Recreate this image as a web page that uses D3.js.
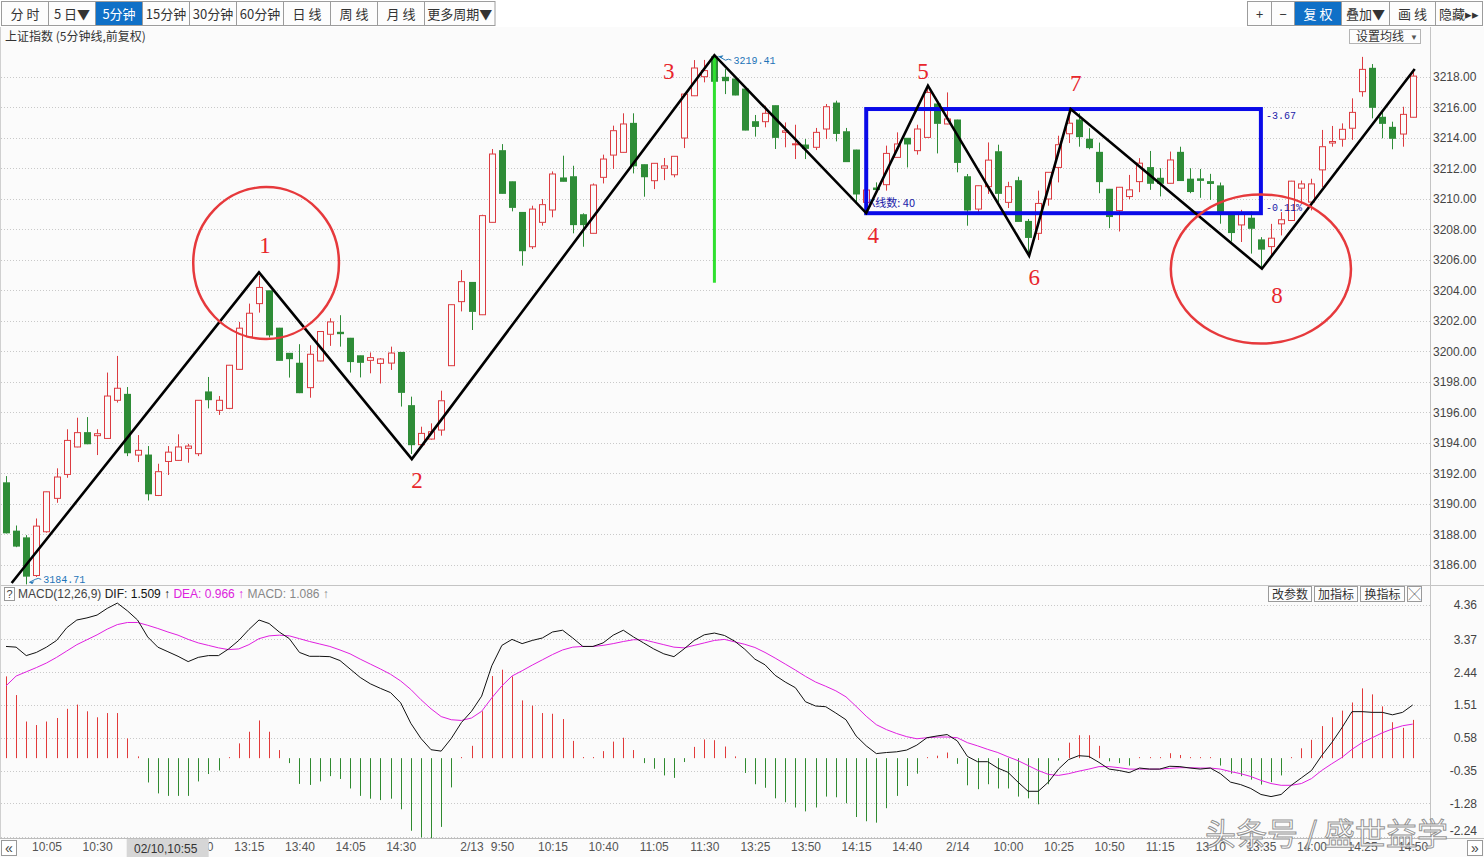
<!DOCTYPE html>
<html>
<head>
<meta charset="utf-8">
<script src="https://cdn.jsdelivr.net/npm/d3@7"></script>
<style>
  html, body { margin: 0; padding: 0; background: #fbfbfb; overflow: hidden; }
  svg { display: block; font-family: "Liberation Sans", Arial, sans-serif; }
</style>
</head>
<body>
<svg id="chart" width="1484" height="857"></svg>
<script>
// ---- 上证指数 5分钟K线 (02/10 09:45 – 02/14 14:50) ----
const opens = [3191.37,3188.20,3187.76,3185.29,3188.16,3190.35,3191.92,3193.72,3194.66,3194.46,
3194.28,3196.78,3197.17,3193.19,3193.19,3190.54,3192.77,3192.84,3193.63,3193.28,
3197.33,3196.12,3196.25,3198.81,3200.94,3203.12,3203.96,3201.51,3199.86,3199.21,
3197.61,3199.36,3201.11,3201.24,3200.85,3199.70,3199.40,3199.20,3199.22,3199.92,
3196.43,3193.87,3194.24,3194.83,3199.05,3203.25,3204.51,3202.39,3208.45,3213.15,
3211.11,3209.10,3206.85,3208.45,3209.26,3211.36,3211.44,3208.95,3207.73,3211.40,
3212.86,3213.04,3214.94,3212.23,3211.18,3212.00,3211.57,3213.98,3216.75,3218.00,
3219.30,3217.96,3217.85,3217.19,3215.05,3215.05,3216.10,3214.35,3213.55,3213.52,
3213.37,3214.57,3216.27,3214.39,3213.19,3209.76,3210.70,3210.92,3212.71,3213.96,
3213.15,3214.02,3216.21,3214.90,3215.16,3211.44,3209.32,3210.79,3213.08,3209.76,
3211.18,3208.51,3207.73,3209.98,3212.05,3214.26,3215.16,3213.90,3213.04,3210.62,
3209.22,3210.14,3211.12,3212.04,3211.34,3211.01,3213.04,3211.28,3211.30,3211.12,
3210.84,3209.05,3208.28,3208.72,3207.30,3206.86,3208.35,3208.57,3210.69,3209.78,
3211.89,3213.65,3213.90,3214.62,3217.02,3218.55,3215.34,3214.68,3214.24,3215.34];

const highs = [3191.81,3188.57,3187.94,3189.03,3190.80,3192.32,3194.88,3195.64,3195.68,3194.88,
3198.60,3199.69,3197.65,3194.50,3193.78,3192.62,3193.78,3194.55,3193.93,3196.80,
3198.31,3197.06,3199.10,3201.92,3203.12,3204.94,3203.98,3201.53,3199.88,3200.46,
3200.39,3201.30,3202.16,3202.36,3200.87,3199.72,3199.92,3199.55,3200.30,3199.94,
3197.02,3195.05,3195.27,3197.41,3203.07,3205.32,3204.53,3208.95,3213.26,3213.58,
3211.13,3209.12,3209.54,3209.98,3211.79,3212.82,3212.16,3209.04,3211.00,3212.89,
3214.79,3215.60,3215.60,3212.25,3212.34,3212.67,3212.80,3216.90,3219.09,3219.10,
3219.41,3218.50,3217.87,3217.21,3215.49,3216.10,3216.12,3215.00,3214.85,3213.91,
3214.64,3216.21,3216.43,3214.64,3213.21,3210.60,3211.07,3213.48,3214.35,3213.98,
3214.85,3217.34,3216.47,3216.97,3215.18,3211.62,3210.87,3213.69,3213.54,3211.11,
3211.44,3208.67,3210.53,3211.75,3214.13,3215.76,3215.60,3214.62,3213.68,3210.64,
3210.77,3211.56,3212.66,3213.13,3212.00,3213.09,3213.41,3212.00,3211.95,3211.63,
3211.06,3209.07,3209.27,3209.16,3207.48,3208.35,3209.12,3211.17,3211.19,3211.31,
3214.51,3214.77,3214.94,3216.58,3219.30,3218.83,3215.82,3215.05,3216.03,3218.44];

const lows = [3188.05,3187.15,3184.71,3185.20,3188.10,3190.06,3191.70,3193.70,3193.90,3193.19,
3194.25,3196.63,3193.12,3192.73,3190.21,3190.50,3191.88,3192.80,3192.69,3193.12,
3196.25,3195.82,3196.20,3198.80,3200.90,3202.53,3200.90,3199.38,3198.27,3197.25,
3196.95,3199.34,3200.35,3200.30,3198.60,3198.28,3198.55,3197.88,3198.77,3196.37,
3193.26,3193.85,3194.20,3194.46,3199.03,3202.61,3201.39,3202.37,3208.43,3210.33,
3209.17,3205.61,3206.70,3208.23,3208.78,3211.12,3207.73,3206.85,3207.71,3211.00,
3211.95,3213.02,3211.66,3210.13,3210.63,3211.22,3211.40,3213.32,3216.73,3217.63,
3217.60,3216.86,3216.78,3214.48,3214.07,3214.68,3213.26,3213.37,3212.60,3212.60,
3213.19,3213.91,3213.76,3212.41,3209.76,3209.70,3210.31,3210.53,3212.69,3212.05,
3212.89,3214.00,3212.97,3214.88,3211.73,3208.23,3209.10,3210.31,3209.76,3209.39,
3208.49,3206.37,3207.29,3209.54,3211.07,3213.65,3213.41,3213.24,3210.36,3208.07,
3207.85,3209.97,3210.43,3210.58,3210.15,3210.99,3211.17,3210.36,3210.06,3209.92,
3208.36,3207.19,3207.16,3206.40,3205.52,3206.28,3207.59,3208.55,3209.66,3209.23,
3210.76,3213.41,3213.41,3213.86,3216.69,3215.27,3213.96,3213.24,3213.41,3215.32];

const closes = [3188.09,3187.22,3185.25,3188.53,3190.78,3191.75,3194.15,3194.66,3193.93,3194.59,
3197.06,3197.57,3193.34,3193.50,3190.65,3192.10,3193.38,3193.72,3193.78,3196.78,
3196.82,3196.78,3199.08,3201.51,3202.49,3204.18,3201.07,3199.40,3199.51,3197.28,
3199.80,3201.29,3201.92,3201.15,3199.32,3199.27,3199.58,3199.49,3199.88,3197.30,
3193.87,3194.61,3194.72,3196.75,3203.05,3204.56,3202.61,3208.89,3212.93,3210.35,
3209.43,3206.59,3209.32,3209.61,3211.62,3211.14,3208.30,3208.30,3210.90,3212.60,
3214.46,3214.90,3212.16,3211.44,3212.32,3212.15,3212.78,3216.86,3218.57,3218.40,
3217.70,3217.74,3216.80,3214.50,3214.74,3215.60,3214.02,3214.45,3213.60,3213.30,
3214.35,3216.03,3214.28,3212.43,3210.31,3210.57,3210.60,3212.97,3213.59,3213.59,
3214.57,3216.97,3214.94,3215.23,3212.38,3209.26,3210.85,3212.53,3210.35,3210.79,
3208.51,3207.46,3209.69,3211.73,3213.54,3214.95,3214.07,3213.35,3211.12,3208.83,
3210.75,3210.58,3212.33,3211.01,3211.01,3212.54,3211.19,3210.47,3211.20,3211.00,
3209.10,3207.78,3209.08,3208.06,3206.69,3207.41,3208.62,3211.15,3210.97,3210.97,
3213.41,3213.75,3214.55,3215.66,3218.48,3215.99,3214.94,3213.96,3215.53,3218.04];

// ---- MACD(12,26,9) ----
const dif = [3.17,3.15,2.91,3.00,3.15,3.34,3.70,3.92,3.98,4.06,
4.25,4.40,4.18,3.92,3.44,3.15,3.02,2.89,2.74,2.86,
2.91,2.91,3.10,3.34,3.65,3.92,3.82,3.58,3.39,3.00,
2.89,2.89,2.88,2.77,2.53,2.29,2.11,1.98,1.86,1.57,
0.99,0.56,0.24,0.20,0.56,1.01,1.33,1.76,2.62,3.20,
3.37,3.25,3.34,3.41,3.58,3.63,3.41,3.17,3.17,3.27,
3.49,3.63,3.44,3.27,3.10,2.96,2.88,3.10,3.34,3.50,
3.55,3.48,3.32,3.09,2.81,2.65,2.35,2.16,2.00,1.60,
1.48,1.46,1.28,1.09,0.63,0.35,0.13,0.16,0.18,0.23,
0.37,0.58,0.63,0.67,0.49,0.05,-0.10,-0.10,-0.28,-0.40,
-0.68,-0.94,-0.94,-0.68,-0.31,-0.04,0.07,0.05,-0.12,-0.31,
-0.35,-0.41,-0.28,-0.31,-0.31,-0.23,-0.24,-0.28,-0.31,-0.28,
-0.44,-0.68,-0.75,-0.86,-1.03,-1.09,-1.03,-0.77,-0.56,-0.35,
0.07,0.44,0.86,1.32,1.32,1.30,1.30,1.23,1.30,1.509];

const dea = [2.05,2.33,2.45,2.57,2.70,2.86,3.04,3.22,3.36,3.50,
3.66,3.79,3.85,3.85,3.77,3.68,3.58,3.49,3.37,3.27,
3.20,3.13,3.08,3.10,3.22,3.39,3.47,3.49,3.47,3.39,
3.31,3.24,3.17,3.07,2.96,2.81,2.67,2.53,2.38,2.19,
1.95,1.66,1.40,1.18,1.09,1.07,1.14,1.33,1.71,2.05,
2.33,2.48,2.64,2.79,2.94,3.07,3.15,3.17,3.17,3.20,
3.25,3.31,3.36,3.36,3.29,3.22,3.15,3.13,3.20,3.27,
3.34,3.37,3.30,3.23,3.14,3.00,2.84,2.67,2.50,2.32,
2.16,2.04,1.91,1.74,1.47,1.19,0.95,0.81,0.70,0.61,
0.55,0.58,0.60,0.60,0.58,0.44,0.35,0.25,0.16,0.04,
-0.07,-0.21,-0.35,-0.46,-0.49,-0.44,-0.37,-0.31,-0.24,-0.24,
-0.27,-0.31,-0.31,-0.31,-0.31,-0.29,-0.27,-0.27,-0.28,-0.28,
-0.31,-0.38,-0.44,-0.52,-0.63,-0.72,-0.77,-0.77,-0.72,-0.58,
-0.35,-0.16,0.02,0.25,0.44,0.58,0.72,0.83,0.92,0.966];

const macdBars = [2.32,1.79,1.04,0.94,1.04,1.14,1.40,1.52,1.33,1.16,
1.28,1.28,0.56,0.05,-0.69,-1.00,-1.07,-1.07,-1.07,-0.66,
-0.45,-0.35,0.01,0.42,0.75,1.07,0.75,0.23,-0.14,-0.73,
-0.76,-0.66,-0.51,-0.59,-0.86,-1.07,-1.15,-1.19,-1.15,-1.45,
-2.06,-2.25,-2.27,-1.95,-0.83,0.03,0.35,1.33,2.33,2.51,
2.32,1.64,1.49,1.28,1.26,1.11,0.49,0.03,0.03,0.20,
0.47,0.58,0.23,-0.14,-0.30,-0.49,-0.56,-0.11,0.32,0.53,
0.51,0.33,0.05,-0.42,-0.74,-0.84,-1.14,-1.25,-1.40,-1.51,
-1.40,-1.09,-1.11,-1.28,-1.67,-1.79,-1.83,-1.42,-1.07,-0.79,
-0.44,0.02,0.07,0.16,-0.16,-0.77,-0.88,-0.74,-0.86,-0.86,
-1.09,-1.14,-1.31,-0.74,-0.07,0.44,0.65,0.65,0.35,-0.09,
-0.14,-0.21,0.00,0.02,0.02,0.14,0.09,0.02,0.02,0.02,
-0.21,-0.44,-0.51,-0.61,-0.75,-0.68,-0.49,0.02,0.28,0.52,
0.91,1.16,1.35,1.58,1.98,1.81,1.47,1.02,0.86,1.086];

// ---- axis ticks ----
const priceTicks = [3186,3188,3190,3192,3194,3196,3198,3200,3202,3204,3206,3208,3210,3212,3214,3216,3218];
const macdTicks = [4.36,3.37,2.44,1.51,0.58,-0.35,-1.28,-2.24];
const macdTickLabels = ["4.36","3.37","2.44","1.51","0.58","-0.35","-1.28","-2.24"];
const timeTickIdx = [4,9,14,19,24,29,34,39,46,49,54,59,64,69,74,79,84,89,94,99,104,109,114,119,124,129,134,139];
const timeTickLabels = ["10:05","10:30","10:55","11:20","13:15","13:40","14:05","14:30","2/13","9:50","10:15","10:40","11:05","11:30",
  "13:25","13:50","14:15","14:40","2/14","10:00","10:25","10:50","11:15","13:10","13:35","14:00","14:25","14:50"];

// ---- hand-drawn annotations (bar index, price) ----
const zigIdx   = [0.56, 25, 40.1, 70, 85, 91.1, 101.1, 105.2, 124.1, 139.2];
const zigPrice = [3184.8, 3205.17, 3192.93, 3219.41, 3209.06, 3217.41, 3206.26, 3215.88, 3205.41, 3218.5];
const waveNames = ["1","2","3","4","5","6","7","8"];
const waveIdx   = [25.6, 40.6, 65.5, 85.7, 90.6, 101.6, 105.7, 125.6];
const wavePrice = [3206.95, 3191.55, 3218.39, 3207.62, 3218.39, 3204.89, 3217.57, 3203.69];
const ringIdx = [25.7, 124.0], ringPrice = [3205.78, 3205.39], ringBars = [7.2, 8.9], ringPts = [4.98, 4.89];
const boxFrom = 85, boxTo = 124, boxHigh = 3215.88, boxLow = 3209.05;
const vlineIdx = 70, vlineTop = 3219.41, vlineBottom = 3204.49;

// ---- toolbar ----
const leftTabs = ["分 时","5 日▼","5分钟","15分钟","30分钟","60分钟","日 线","周 线","月 线","更多周期▼"];
const rightTabs = ["+","−","复 权","叠加▼","画 线","隐藏▸▸"];

// =========================================================
const W = 1484, H = 857, plotRight = 1430;
const svg = d3.select("#chart");
const RED = "#dc3b40", GREEN = "#2e8c37", BG = "#fbfbfb";

const x = d3.scaleLinear().domain([0, 139]).range([6, 1412.7]);
const y = d3.scaleLinear().domain([3186, 3218]).range([564.7, 76.7]);
const ym = d3.scaleLinear().domain([-0.35, 4.36]).range([770.5, 604.5]);

svg.append("rect").attr("width", W).attr("height", H).attr("fill", BG);
svg.append("rect").attr("width", W).attr("height", 27).attr("fill", "#ffffff");

// toolbar buttons
function tabs(labels, widths, x0, active) {
  let cx = x0;
  labels.forEach((t, i) => {
    const w = widths[i];
    const on = active.includes(i);
    svg.append("rect").attr("x", cx + 0.5).attr("y", 1.5).attr("width", w).attr("height", 24)
      .attr("fill", on ? "#0f70c7" : "#fdfdfd").attr("stroke", "#9c9c9c");
    svg.append("text").attr("x", cx + w / 2 + 0.5).attr("y", 18.5).attr("text-anchor", "middle")
      .attr("font-family", "'Noto Sans CJK SC', sans-serif").attr("font-size", 13)
      .attr("fill", on ? "#ffffff" : "#333").text(t);
    cx += w;
  });
}
tabs(leftTabs, [47,47,47,47,47,47,47,47,47,70.5], 1, [2]);
tabs(rightTabs, [24,23,47,48,46,47], 1247, [2]);

svg.append("text").attr("x", 5).attr("y", 41).attr("font-family", "'Noto Sans CJK SC', sans-serif")
  .attr("font-size", 12).attr("fill", "#333").text("上证指数 (5分钟线,前复权)");
svg.append("rect").attr("x", 1349.5).attr("y", 29.5).attr("width", 71).attr("height", 14)
  .attr("fill", "#fdfdfd").attr("stroke", "#b4b4b4");
svg.append("text").attr("x", 1356).attr("y", 41).attr("font-family", "'Noto Sans CJK SC', sans-serif")
  .attr("font-size", 12).attr("fill", "#333").text("设置均线");
svg.append("text").attr("x", 1410).attr("y", 40).attr("font-size", 8).attr("fill", "#555").text("▼");

// frame lines
svg.append("line").attr("x1", plotRight + 0.5).attr("x2", plotRight + 0.5).attr("y1", 27).attr("y2", 838)
  .attr("stroke", "#c4c4c4");
svg.append("line").attr("x1", 0).attr("x2", W).attr("y1", 585.5).attr("y2", 585.5).attr("stroke", "#c4c4c4");
svg.append("line").attr("x1", 0).attr("x2", W).attr("y1", 838.5).attr("y2", 838.5).attr("stroke", "#bdbdbd");
svg.append("line").attr("x1", 0.5).attr("x2", 0.5).attr("y1", 27).attr("y2", 838).attr("stroke", "#d0d0d0");

// price grid + axis
const gridG = svg.append("g");
priceTicks.forEach(v => {
  gridG.append("line").attr("x1", 1).attr("x2", plotRight).attr("y1", Math.round(y(v)) + 0.5).attr("y2", Math.round(y(v)) + 0.5)
    .attr("stroke", "#c9c9c9").attr("stroke-dasharray", "1,2");
});
const gy = svg.append("g").attr("transform", `translate(${plotRight},0)`)
  .call(d3.axisRight(y).tickValues(priceTicks).tickFormat(d3.format(".2f")).tickSize(0).tickPadding(3));
gy.select(".domain").remove();
gy.selectAll("text").attr("font-size", 12).attr("fill", "#444").attr("font-family", "'Liberation Sans', Arial");

// candles
const cg = svg.append("g");
opens.forEach((o, i) => {
  const c = closes[i], hi = highs[i], lo = lows[i];
  const cx = Math.round(x(i)) + 0.5;
  const up = c >= o;
  const col = up ? RED : GREEN;
  const yTop = y(Math.max(o, c)), yBot = y(Math.min(o, c));
  const bh = Math.max(1, yBot - yTop);
  cg.append("line").attr("x1", cx).attr("x2", cx).attr("y1", y(hi)).attr("y2", yTop).attr("stroke", col);
  cg.append("line").attr("x1", cx).attr("x2", cx).attr("y1", yTop + bh).attr("y2", y(lo)).attr("stroke", col);
  if (up) {
    cg.append("rect").attr("x", cx - 3).attr("y", yTop).attr("width", 6).attr("height", bh)
      .attr("fill", BG).attr("stroke", col).attr("stroke-width", 1);
  } else {
    cg.append("rect").attr("x", cx - 3.5).attr("y", yTop - 0.5).attr("width", 7).attr("height", bh + 1)
      .attr("fill", col);
  }
});

// extreme price labels
const lowI = lows.indexOf(d3.min(lows)), highI = highs.indexOf(d3.max(highs));
function extremeLabel(v, tx, ty, ax, ay) {
  svg.append("path").attr("d", `M${tx - 2},${ty - 4} q-3,-2 -6,0 L${ax},${ay}`)
    .attr("fill", "none").attr("stroke", "#2a7ab8").attr("stroke-width", 1);
  svg.append("path").attr("d", `M${ax},${ay} l5,-1 l-2,3 z`).attr("fill", "#2a7ab8");
  svg.append("text").attr("x", tx).attr("y", ty).attr("font-family", "'Liberation Mono', monospace")
    .attr("font-size", 10).attr("fill", "#1e74b8").text(v.toFixed(2));
}
extremeLabel(lows[lowI], x(lowI) + 17, y(lows[lowI]) - 1, x(lowI) + 3, y(lows[lowI]) - 2);
extremeLabel(highs[highI], x(highI) + 19, y(highs[highI]) + 9, x(highI) + 4, y(highs[highI]) + 1);

// vertical marker line
svg.append("line").attr("x1", x(vlineIdx)).attr("x2", x(vlineIdx)).attr("y1", y(vlineTop)).attr("y2", y(vlineBottom))
  .attr("stroke", "#2fe02f").attr("stroke-width", 3);

// range box
svg.append("rect").attr("x", x(boxFrom)).attr("y", y(boxHigh)).attr("width", x(boxTo) - x(boxFrom))
  .attr("height", y(boxLow) - y(boxHigh)).attr("fill", "none").attr("stroke", "#0a0ae8").attr("stroke-width", 4);
const boxTxt = (t, tx, ty) => svg.append("text").attr("x", tx).attr("y", ty)
  .attr("font-family", "'Liberation Mono', monospace").attr("font-size", 10).attr("fill", "#1a1aa8").text(t);
boxTxt("-3.67", x(boxTo) + 5, y(boxHigh) + 10);
boxTxt("-0.11%", x(boxTo) + 5, y(boxLow) - 2);
svg.append("text").attr("x", x(boxFrom) + 2).attr("y", y(boxLow) - 6)
  .attr("font-family", "'Noto Sans CJK SC', sans-serif").attr("font-size", 11).attr("fill", "#1a1aa8")
  .text("K线数: " + (boxTo - boxFrom + 1));

// zigzag wave line
svg.append("path").datum(zigIdx.map((d, i) => [d, zigPrice[i]]))
  .attr("d", d3.line().x(d => x(d[0])).y(d => y(d[1])))
  .attr("fill", "none").attr("stroke", "#000").attr("stroke-width", 2.6).attr("stroke-linejoin", "miter");

// rings
ringIdx.forEach((d, i) => {
  svg.append("ellipse").attr("cx", x(d)).attr("cy", y(ringPrice[i]))
    .attr("rx", x(d + ringBars[i]) - x(d)).attr("ry", y(ringPrice[i] - ringPts[i]) - y(ringPrice[i]))
    .attr("fill", "none").attr("stroke", "#e6393c").attr("stroke-width", 2.5);
});

// wave numbers
waveNames.forEach((t, i) => {
  svg.append("text").attr("x", x(waveIdx[i])).attr("y", y(wavePrice[i]) + 8).attr("text-anchor", "middle")
    .attr("font-family", "'Liberation Serif', 'Times New Roman', serif").attr("font-size", 23)
    .attr("fill", "#e8262c").text(t);
});

// ---- MACD panel ----
macdTicks.forEach(v => {
  svg.append("line").attr("x1", 1).attr("x2", plotRight).attr("y1", Math.round(ym(v)) + 0.5).attr("y2", Math.round(ym(v)) + 0.5)
    .attr("stroke", "#c9c9c9").attr("stroke-dasharray", "1,2");
});
const gm = svg.append("g").attr("transform", `translate(${plotRight},0)`)
  .call(d3.axisRight(ym).tickValues(macdTicks).tickFormat((d, i) => macdTickLabels[i]).tickSize(0).tickPadding(47));
gm.select(".domain").remove();
gm.selectAll("text").attr("text-anchor", "end").attr("font-size", 12).attr("fill", "#444")
  .attr("font-family", "'Liberation Sans', Arial")
  .filter((d, i) => i === macdTicks.length - 1).attr("dy", "-0.2em");

const hg = svg.append("g");
macdBars.forEach((v, i) => {
  const cx = Math.round(x(i)) + 0.5;
  const y0 = ym(0), y1 = ym(v);
  hg.append("line").attr("x1", cx).attr("x2", cx).attr("y1", y0)
    .attr("y2", Math.abs(y1 - y0) < 1 ? y0 + (v >= 0 ? -1 : 1) : y1)
    .attr("stroke", v >= 0 ? "#e23a3a" : "#2f8a2f").attr("stroke-width", 1);
});
const mline = d3.line().x((d, i) => x(i)).y(d => ym(d));
svg.append("path").datum(dea).attr("d", mline).attr("fill", "none").attr("stroke", "#e020e0").attr("stroke-width", 1);
svg.append("path").datum(dif).attr("d", mline).attr("fill", "none").attr("stroke", "#111").attr("stroke-width", 1);

// header
svg.append("rect").attr("x", 4.5).attr("y", 587.5).attr("width", 10).attr("height", 13).attr("fill", "#fff").attr("stroke", "#999");
svg.append("text").attr("x", 9.5).attr("y", 598).attr("text-anchor", "middle").attr("font-size", 11).attr("fill", "#444").text("?");
const hdr = svg.append("text").attr("x", 18).attr("y", 598).attr("font-size", 12).attr("font-family", "'Liberation Sans', Arial");
const last = dif.length - 1;
hdr.append("tspan").attr("fill", "#444").text("MACD(12,26,9)  ");
hdr.append("tspan").attr("fill", "#222").text("DIF: ");
hdr.append("tspan").attr("fill", "#111").text(dif[last].toFixed(3) + " ↑  ");
hdr.append("tspan").attr("fill", "#dd22dd").text("DEA: " + dea[last].toFixed(3) + " ↑  ");
hdr.append("tspan").attr("fill", "#888").text("MACD: " + macdBars[last].toFixed(3) + " ↑");

const ibtn = ["改参数", "加指标", "换指标", "╳"];
const ibw = [43, 43, 44, 14];
let bx = 1268.5;
ibtn.forEach((t, i) => {
  svg.append("rect").attr("x", bx).attr("y", 586.5).attr("width", ibw[i]).attr("height", 15)
    .attr("fill", "#fdfdfd").attr("stroke", "#9a9a9a");
  svg.append("text").attr("x", bx + ibw[i] / 2).attr("y", 598.5).attr("text-anchor", "middle")
    .attr("font-family", "'Noto Sans CJK SC', sans-serif").attr("font-size", 12).attr("fill", "#333").text(t);
  bx += ibw[i] + 3;
});

// ---- time axis ----
const gx = svg.append("g").attr("transform", "translate(0,838)")
  .call(d3.axisBottom(x).tickValues(timeTickIdx).tickFormat((d, i) => timeTickLabels[i]).tickSize(0).tickPadding(4));
gx.select(".domain").remove();
gx.selectAll("text").attr("font-size", 12).attr("fill", "#555").attr("font-family", "'Liberation Sans', Arial");

// cursor time tag
const cursorIdx = 14;
svg.append("rect").attr("x", x(cursorIdx) - 21).attr("y", 839).attr("width", 82).attr("height", 18).attr("fill", "#d6d6d6");
svg.append("text").attr("x", x(cursorIdx) + 18).attr("y", 853).attr("text-anchor", "middle")
  .attr("font-size", 12).attr("fill", "#333").text("02/10,10:55");

// scroll buttons
[["«", 1], ["»", 1467]].forEach(([t, bx0]) => {
  svg.append("rect").attr("x", bx0 + 0.5).attr("y", 840.5).attr("width", 15).attr("height", 15)
    .attr("fill", "#fff").attr("stroke", "#999");
  svg.append("text").attr("x", bx0 + 8).attr("y", 853).attr("text-anchor", "middle")
    .attr("font-size", 14).attr("fill", "#444").text(t);
});

// watermark
svg.append("text").attr("x", 1205).attr("y", 845)
  .attr("font-family", "'Noto Sans CJK SC', sans-serif").attr("font-size", 31)
  .attr("fill", "#ffffff").attr("fill-opacity", 0.9).attr("stroke", "#6e6e6e").attr("stroke-width", 1)
  .attr("stroke-opacity", 0.75).text("头条号 / 盛世益学");
</script>
</body>
</html>
